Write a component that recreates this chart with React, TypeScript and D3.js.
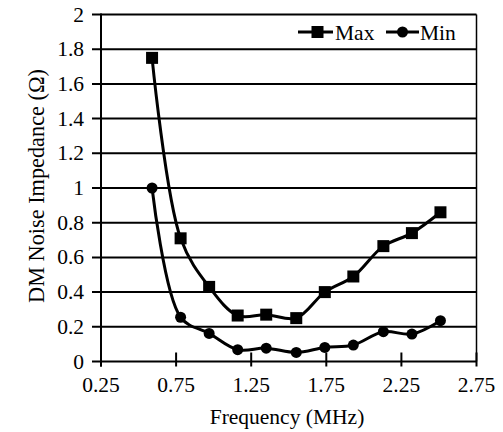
import React from "react";
import * as d3 from "d3";

const freq = [0.59, 0.78, 0.97, 1.16, 1.35, 1.55, 1.74, 1.93, 2.13, 2.32, 2.51];
const maxVals = [1.75, 0.71, 0.43, 0.265, 0.27, 0.25, 0.4, 0.49, 0.665, 0.74, 0.86];
const minVals = [1.0, 0.255, 0.162, 0.068, 0.077, 0.052, 0.081, 0.095, 0.172, 0.158, 0.235];
const xTicks = [0.25, 0.75, 1.25, 1.75, 2.25, 2.75];
const yTicks = [0, 0.2, 0.4, 0.6, 0.8, 1, 1.2, 1.4, 1.6, 1.8, 2];
const seriesNames = ["Max", "Min"];

const W = 503;
const H = 432;
const FONT = "'Liberation Serif', 'Times New Roman', serif";

export default function App() {
  const x = d3.scaleLinear().domain([0.25, 2.75]).range([101, 476.5]);
  const y = d3.scaleLinear().domain([0, 2]).range([361.5, 14.5]);
  const line = d3
    .line<number>()
    .x((_, i) => x(freq[i]))
    .y((d) => y(d))
    .curve(d3.curveCatmullRom.alpha(0.5));

  const fmt = (v: number) => String(v);

  return (
    <svg
      width={W}
      height={H}
      style={{ position: "absolute", left: 0, top: 0, background: "#fff" }}
      fontFamily={FONT}
    >
      <rect width={W} height={H} fill="#fff" />
      {/* gridlines */}
      {yTicks.map((t) => (
        <line key={"g" + t} x1={x(0.25) - 9} x2={x(2.75)} y1={y(t)} y2={y(t)} stroke="#000" strokeWidth={2} />
      ))}
      {/* right border */}
      <line x1={x(2.75)} x2={x(2.75)} y1={y(2)} y2={y(0)} stroke="#000" strokeWidth={1.5} />
      {/* y axis */}
      <line x1={x(0.25)} x2={x(0.25)} y1={y(2) - 1} y2={y(0) + 5} stroke="#000" strokeWidth={2} />
      {/* x ticks */}
      {xTicks.map((t) => (
        <line key={"xt" + t} x1={x(t)} x2={x(t)} y1={y(0) - 9} y2={y(0) + 5} stroke="#000" strokeWidth={2} />
      ))}
      {/* y labels */}
      {yTicks.map((t) => (
        <text key={"yl" + t} x={x(0.25) - 17} y={y(t) + 7} fontSize={21.5} textAnchor="end" fill="#000">
          {fmt(t)}
        </text>
      ))}
      {/* x labels */}
      {xTicks.map((t) => (
        <text key={"xl" + t} x={x(t)} y={392} fontSize={21.5} textAnchor="middle" fill="#000">
          {t.toFixed(2)}
        </text>
      ))}
      {/* axis titles */}
      <text x={287} y={424} fontSize={21.5} textAnchor="middle" fill="#000">
        Frequency (MHz)
      </text>
      <text
        transform={`translate(43.5,186) rotate(-90)`}
        fontSize={22.3}
        textAnchor="middle"
        fill="#000"
      >
        DM Noise Impedance (Ω)
      </text>
      {/* series lines */}
      <path d={line(maxVals) || ""} fill="none" stroke="#000" strokeWidth={3} />
      <path d={line(minVals) || ""} fill="none" stroke="#000" strokeWidth={3} />
      {maxVals.map((v, i) => (
        <rect key={"mx" + i} x={x(freq[i]) - 6} y={y(v) - 6} width={12} height={12} fill="#000" />
      ))}
      {minVals.map((v, i) => (
        <circle key={"mn" + i} cx={x(freq[i])} cy={y(v)} r={5.5} fill="#000" />
      ))}
      {/* legend */}
      <rect x={290} y={20} width={180} height={24} fill="#fff" />
      <line x1={298} x2={333} y1={32} y2={32} stroke="#000" strokeWidth={3} />
      <rect x={311.5} y={26} width={12} height={12} fill="#000" />
      <text x={335} y={40} fontSize={21.5} fill="#000">
        {seriesNames[0]}
      </text>
      <line x1={386} x2={419} y1={32} y2={32} stroke="#000" strokeWidth={3} />
      <circle cx={402.5} cy={32} r={5.5} fill="#000" />
      <text x={420} y={40} fontSize={21.5} fill="#000">
        {seriesNames[1]}
      </text>
    </svg>
  );
}
